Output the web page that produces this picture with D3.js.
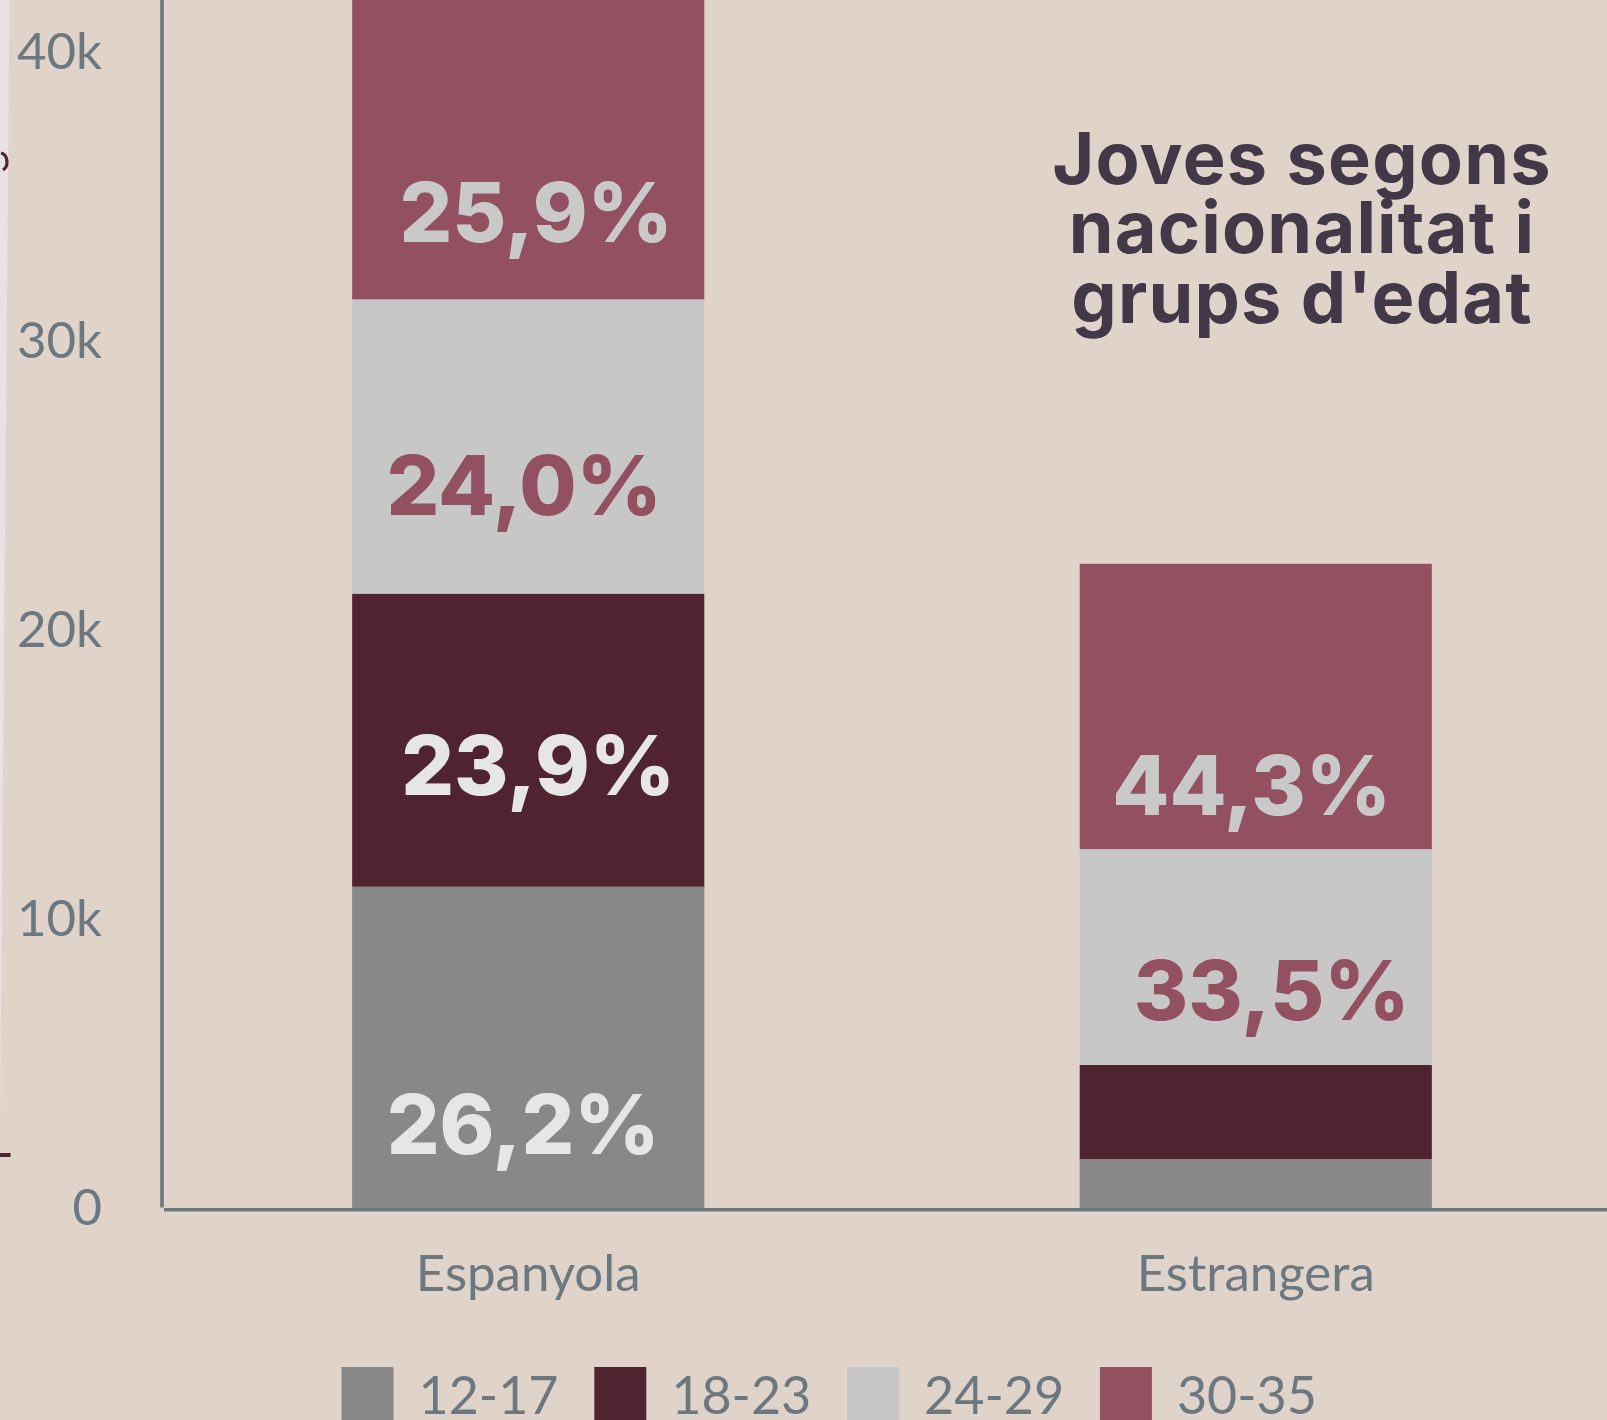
<!DOCTYPE html>
<html>
<head>
<meta charset="utf-8">
<script src="https://cdn.jsdelivr.net/npm/d3@7"></script>
<style>
  html, body { margin: 0; padding: 0; background: #e0d3ca; overflow: hidden; }
  svg { display: block; }
</style>
</head>
<body>
<svg id="chart" width="1607" height="1420"></svg>
<script>
// Young people by nationality and age group
const nationalities = ["Espanyola", "Estrangera"];
const ageGroups = ["12-17", "18-23", "24-29", "30-35"];
const totals = [42450, 22300];
const sharesEspanyola = [26.2, 23.9, 24.0, 25.9];
const sharesEstrangera = [7.6, 14.6, 33.5, 44.3];
const labelledEspanyola = [true, true, true, true];
const labelledEstrangera = [false, false, true, true];
const yTicks = [0, 10000, 20000, 30000, 40000];
const titleLines = ["Joves segons", "nacionalitat i", "grups d'edat"];

const W = 1607, H = 1420;
const colors = { "12-17": "#888888", "18-23": "#4f2330", "24-29": "#c7c7c7", "30-35": "#925060" };
const labelColors = { "12-17": "#e6e6e6", "18-23": "#e6e6e6", "24-29": "#925060", "30-35": "#c9c9c9" };
// hand-placed label offsets: [dx from bar centre, dy from segment bottom]
const labelNudge = {
  "Espanyola":  { "12-17": [-5, -54], "18-23": [10, -92], "24-29": [-4, -79], "30-35": [8, -57] },
  "Estrangera": { "24-29": [16, -45], "30-35": [-4, -34] }
};

const shares = [sharesEspanyola, sharesEstrangera];
const labelled = [labelledEspanyola, labelledEstrangera];
const rows = nationalities.map((n, i) => {
  const r = { nationality: n, total: totals[i] };
  ageGroups.forEach((g, j) => {
    r[g] = shares[i][j] / 100 * totals[i];
    r["share_" + g] = shares[i][j];
    r["lab_" + g] = labelled[i][j];
  });
  return r;
});

const svg = d3.select("#chart");
const locale = d3.formatLocale({ decimal: ",", thousands: ".", grouping: [3], currency: ["", " €"] });
const pct = v => locale.format(".1f")(v) + "%";

const x = d3.scaleBand().domain(nationalities).range([163, 1621]).paddingInner(0.516).paddingOuter(0.26);
const y = d3.scaleLinear().domain([0, 40000]).range([1208, 52.5]);

// background
svg.append("rect").attr("width", W).attr("height", H).attr("fill", "#e0d3ca");
// light sliver along the left edge
svg.append("path").attr("d", "M0,0 L9.5,0 L0,1130 Z").attr("fill", "#e8e2e4");
// fragments of a dark element cut off at the left edge
svg.append("path").attr("d", "M1,153 A7,9 0 0 1 3,170").attr("fill", "none")
  .attr("stroke", "#4f2330").attr("stroke-width", 3.2);
svg.append("line").attr("x1", 0).attr("x2", 10.5).attr("y1", 1155).attr("y2", 1155)
  .attr("stroke", "#4f2330").attr("stroke-width", 4);

// stacked bars
const series = d3.stack().keys(ageGroups)(rows);
const layers = svg.append("g").selectAll("g").data(series).join("g")
  .attr("fill", d => colors[d.key]);
layers.selectAll("rect").data(d => d).join("rect")
  .attr("x", d => x(d.data.nationality))
  .attr("width", x.bandwidth())
  .attr("y", d => y(d[1]))
  .attr("height", d => y(d[0]) - y(d[1]));

// percentage labels
const labels = [];
series.forEach(s => s.forEach(d => {
  if (!d.data["lab_" + s.key]) return;
  labels.push({ key: s.key, nat: d.data.nationality, lo: d[0], share: d.data["share_" + s.key] });
}));
svg.append("g").selectAll("text").data(labels).join("text")
  .attr("x", d => x(d.nat) + x.bandwidth() / 2 + labelNudge[d.nat][d.key][0])
  .attr("y", d => y(d.lo) + labelNudge[d.nat][d.key][1])
  .attr("text-anchor", "middle")
  .attr("font-family", "Inter, 'Noto Sans', sans-serif")
  .attr("font-weight", 800)
  .attr("font-size", 83)
  .attr("fill", d => labelColors[d.key])
  .text(d => pct(d.share));

// y axis
const yAxis = svg.append("g").attr("transform", "translate(162,0)")
  .call(d3.axisLeft(y).tickValues(yTicks).tickFormat(d3.format("~s")).tickSize(0).tickPadding(60));
yAxis.select(".domain").remove();
yAxis.selectAll("text")
  .attr("font-family", "Lato, sans-serif").attr("font-size", 51).attr("fill", "#6c7880");
svg.append("line").attr("x1", 162).attr("x2", 162).attr("y1", 0).attr("y2", 1207.5)
  .attr("stroke", "#6c7880").attr("stroke-width", 3.6);

// x axis
const xAxis = svg.append("g").attr("transform", "translate(0,1209.7)")
  .call(d3.axisBottom(x).tickSize(0).tickPadding(0));
xAxis.select(".domain").remove();
xAxis.selectAll("text")
  .attr("dy", null).attr("y", 81)
  .attr("font-family", "Lato, sans-serif").attr("font-size", 51).attr("fill", "#6c7880");
svg.append("line").attr("x1", 164).attr("x2", W).attr("y1", 1209.7).attr("y2", 1209.7)
  .attr("stroke", "#6c7880").attr("stroke-width", 3.6);

// title, one text per line
svg.append("g").selectAll("text").data(titleLines).join("text")
  .attr("x", 1302).attr("y", (d, i) => 183.5 + i * 69.7)
  .attr("text-anchor", "middle")
  .attr("font-family", "Inter, 'Noto Sans', sans-serif")
  .attr("font-weight", 700).attr("font-size", 72).attr("letter-spacing", "1.2px")
  .attr("fill", "#433847")
  .text(d => d);

// legend
const legend = svg.append("g").selectAll("g").data(ageGroups).join("g")
  .attr("transform", (d, i) => `translate(${341.5 + i * 252.8},1367)`);
legend.append("rect").attr("width", 52).attr("height", 60).attr("fill", d => colors[d]);
legend.append("text").attr("x", 77).attr("y", 47)
  .attr("font-family", "Lato, sans-serif").attr("font-size", 52).attr("fill", "#6c7880")
  .text(d => d);
</script>
</body>
</html>
